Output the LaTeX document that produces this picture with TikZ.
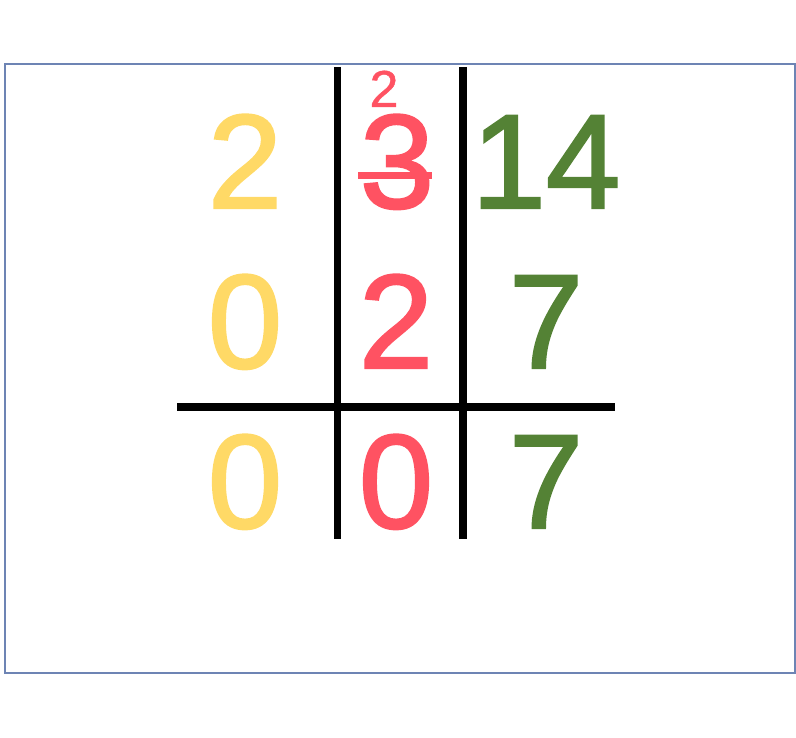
\documentclass[tikz,border=0pt]{standalone}
\usepackage{fontspec}
\setmainfont{Liberation Sans}
\newfontfamily\digitfont[FakeBold=1.6]{Liberation Sans}
\newfontfamily\smalldigitfont[FakeBold=0.8]{Liberation Sans}
\definecolor{frameblue}{HTML}{6D84B4}
\definecolor{digyellow}{HTML}{FFD966}
\definecolor{digred}{HTML}{FF5262}
\definecolor{diggreen}{HTML}{548235}
\tikzset{
  digit/.style={inner sep=0pt, anchor=base, font=\digitfont\fontsize{134}{134}\selectfont},
  smalldigit/.style={inner sep=0pt, anchor=base, font=\smalldigitfont\fontsize{52}{52}\selectfont},
  gridline/.style={line width=7.5pt, black},
}
\begin{document}
\begin{tikzpicture}[x=1pt, y=-1pt]
\useasboundingbox (0,0) rectangle (796,738);
\draw[frameblue, line width=1.6pt] (5,64) rectangle (795,673);
% grid
\coordinate (v1t) at (337.5,67);
\coordinate (v1b) at (337.5,539);
\coordinate (v2t) at (463,67);
\coordinate (v2b) at (463,539);
\coordinate (hl) at (177,407);
\coordinate (hr) at (615,407);
\draw[gridline] (v1t) -- (v1b);
\draw[gridline] (v2t) -- (v2b);
\draw[gridline] (hl) -- (hr);
% row 1
\node[digit, text=digyellow] (a1) at (245,208) {2};
\node[digit, text=digred] (b1) at (397,208) {3};
\node[digit, text=diggreen] (c1) at (546,208) {14};
\node[smalldigit, text=digred] (b0) at (384,107) {2};
\coordinate (sl) at (358,176);
\coordinate (sr) at (432,176);
\draw[digred, line width=7pt] (sl) -- (sr);
% row 2
\node[digit, text=digyellow] (a2) at (245,368) {0};
\node[digit, text=digred] (b2) at (396,368) {2};
\node[digit, text=diggreen] (c2) at (546,368) {7};
% row 3
\node[digit, text=digyellow] (a3) at (245,528) {0};
\node[digit, text=digred] (b3) at (396,528) {0};
\node[digit, text=diggreen] (c3) at (546,528) {7};
\end{tikzpicture}
\end{document}
